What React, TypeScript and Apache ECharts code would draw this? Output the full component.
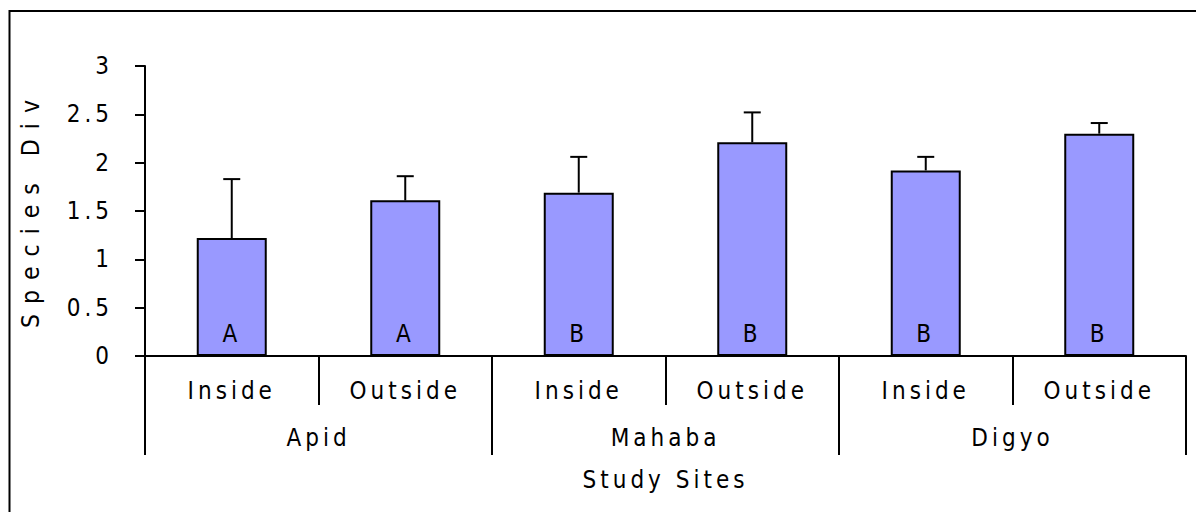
import React, { useEffect, useRef } from "react";
import * as echarts from "echarts";

// Treatments within each study site
const treatments = ["Inside", "Outside", "Inside", "Outside", "Inside", "Outside"];
// Study sites (second label row)
const sites = ["Apid", "Mahaba", "Digyo"];
// Mean species diversity per treatment
const meanDiversity = [1.22, 1.61, 1.69, 2.21, 1.92, 2.3];
// Upper error (standard error) per treatment
const upperError = [0.61, 0.25, 0.37, 0.31, 0.14, 0.11];
// Significance groupings printed in each bar
const groupLetters = ["A", "A", "B", "B", "B", "B"];
// Value axis ticks
const yTicks = { min: 0, max: 3, interval: 0.5 };

const FONT = '"Liberation Sans Narrow", "DejaVu Sans Condensed", "Arial Narrow", "Liberation Sans", sans-serif';
const FS = 24;

export default function App() {
  const ref = useRef<HTMLDivElement>(null);

  useEffect(() => {
    if (!ref.current) return;
    const chart = echarts.init(ref.current, undefined, { renderer: "svg" });

    const textBase = { color: "#000", fontFamily: FONT, fontSize: FS };

    chart.setOption({
      animation: false,
      backgroundColor: "#fff",
      grid: { left: 145, right: 10, top: 66, bottom: 156, containLabel: false },
      xAxis: [
        {
          type: "category",
          data: treatments,
          position: "bottom",
          axisLine: { show: true, lineStyle: { color: "#000", width: 2 } },
          axisTick: { show: true, length: 49, interval: 0, alignWithLabel: false, lineStyle: { color: "#000", width: 2 } },
          axisLabel: { ...textBase, interval: 0, margin: 23 },
          splitLine: { show: false },
        },
        {
          type: "category",
          data: sites,
          position: "bottom",
          offset: 0,
          axisLine: { show: false },
          axisTick: { show: true, length: 99, interval: 0, alignWithLabel: false, lineStyle: { color: "#000", width: 2 } },
          axisLabel: { ...textBase, interval: 0, margin: 70 },
          name: "Study Sites",
          nameLocation: "middle",
          nameGap: 112,
          nameTextStyle: { ...textBase },
          splitLine: { show: false },
        },
      ],
      yAxis: {
        type: "value",
        min: yTicks.min,
        max: yTicks.max,
        interval: yTicks.interval,
        axisLine: { show: true, lineStyle: { color: "#000", width: 2 } },
        axisTick: { show: true, length: 10, inside: false, lineStyle: { color: "#000", width: 2 } },
        axisLabel: { ...textBase, margin: 32 },
        splitLine: { show: false },
      },
      graphic: [
        {
          type: "rect",
          shape: { x: 9.5, y: 11, width: 1200, height: 520 },
          style: { fill: "none", stroke: "#000", lineWidth: 2 },
          silent: true,
        },
        {
          type: "text",
          x: 30,
          y: 209,
          rotation: Math.PI / 2,
          style: {
            text: "Species Div",
            fill: "#000",
            fontFamily: FONT,
            fontSize: 24.5,
            align: "center",
            verticalAlign: "middle",
          },
          silent: true,
        },
      ],
      series: [
        {
          type: "bar",
          xAxisIndex: 0,
          data: meanDiversity,
          barWidth: 70,
          itemStyle: { color: "#9999FF", borderColor: "#000", borderWidth: 2 },
          label: {
            show: true,
            position: "insideBottom",
            distance: 10,
            formatter: (p: any) => groupLetters[p.dataIndex],
            ...textBase,
          },
        },
        {
          type: "custom",
          xAxisIndex: 0,
          data: meanDiversity.map((m, i) => [i, m, m + upperError[i]]),
          renderItem: (params: any, api: any) => {
            const base = api.coord([api.value(0), api.value(1)]);
            const top = api.coord([api.value(0), api.value(2)]);
            const half = 8.5;
            const style = { stroke: "#000", lineWidth: 2 };
            return {
              type: "group",
              children: [
                { type: "line", shape: { x1: top[0], y1: base[1], x2: top[0], y2: top[1] }, style },
                { type: "line", shape: { x1: top[0] - half, y1: top[1], x2: top[0] + half, y2: top[1] }, style },
              ],
            };
          },
          z: 3,
        },
      ],
    });

    return () => chart.dispose();
  }, []);

  return (
    <>
      <style>{`
        .chart-box text { letter-spacing: 4px; }
        .chart-box text[style*="24.5px"] { letter-spacing: 10px; }
      `}</style>
      <div
        ref={ref}
        className="chart-box"
        style={{ position: "absolute", left: 0, top: 0, width: 1196, height: 512, overflow: "hidden" }}
      />
    </>
  );
}
